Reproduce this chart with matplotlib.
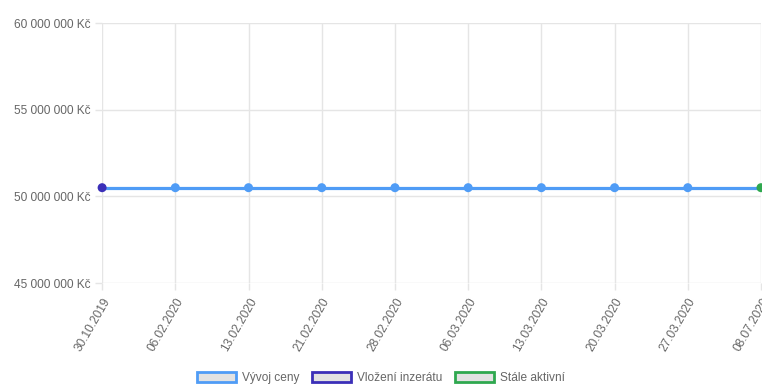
import numpy as np
import matplotlib
matplotlib.use('Agg')
import matplotlib.pyplot as plt
from matplotlib.patches import Patch
from matplotlib.ticker import FuncFormatter

plt.rcParams['font.family'] = ['Liberation Sans', 'DejaVu Sans']

dates = ['30.10.2019', '06.02.2020', '13.02.2020', '21.02.2020', '28.02.2020',
         '06.03.2020', '13.03.2020', '20.03.2020', '27.03.2020', '08.07.2020']
prices = [50500000] * 10
y_ticks = [45000000, 50000000, 55000000, 60000000]
legend_labels = ['Vývoj ceny', 'Vložení inzerátu', 'Stále aktivní']

c_line = '#4f9cf6'
c_start = '#3b2fb8'
c_end = '#2fa84f'
c_text = '#666666'
c_grid = '#e5e5e5'

fig = plt.figure(figsize=(7.62, 3.88), dpi=100)
ax = fig.add_axes([0.134, 0.2706, 0.8647, 0.67])

x = np.arange(len(dates))
ax.plot(x, prices, color=c_line, lw=2.3, zorder=3, clip_on=False)
colors = [c_start] + [c_line] * (len(dates) - 2) + [c_end]
ax.scatter(x, prices, s=42, c=colors, zorder=4, clip_on=False, linewidths=0)

ax.set_xlim(0, len(dates) - 1)
ax.set_ylim(45000000, 60000000)
ax.set_yticks(y_ticks)
ax.yaxis.set_major_formatter(FuncFormatter(lambda v, p: f'{int(v):,}'.replace(',', ' ') + ' Kč'))
ax.set_xticks(x)
ax.set_xticklabels(dates, rotation=60, ha='right', va='top', rotation_mode='anchor')

ax.grid(True, color=c_grid, lw=1)
ax.set_axisbelow(True)
for s in ax.spines.values():
    s.set_visible(False)
ax.tick_params(axis='both', colors=c_grid, labelcolor=c_text, labelsize=8.6, length=5, width=1)
ax.tick_params(axis='x', pad=4)
ax.tick_params(axis='y', pad=3)

handles = [Patch(facecolor='#e2e2e2', edgecolor=c, lw=2) for c in [c_line, c_start, c_end]]
fig.legend(handles, legend_labels, loc='center', bbox_to_anchor=(0.5, 0.026), ncol=3,
           frameon=False, fontsize=8.6, handlelength=3.3, handleheight=0.9,
           handletextpad=0.5, columnspacing=1.0, labelcolor=c_text)

fig.savefig('out.png', dpi=100)
